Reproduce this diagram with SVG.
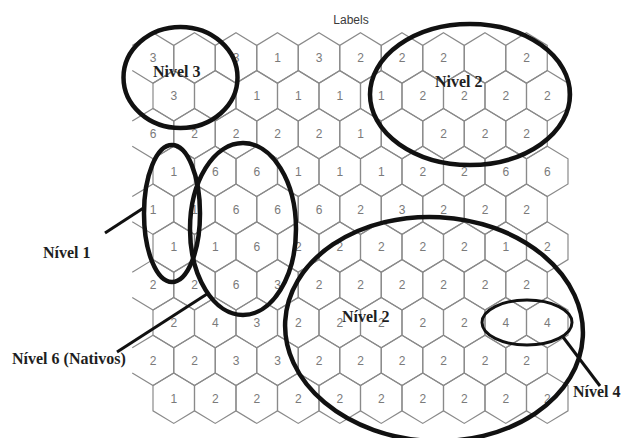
<svg xmlns="http://www.w3.org/2000/svg" xmlns:xlink="http://www.w3.org/1999/xlink" width="623" height="438" viewBox="0 0 623 438">
<style>
.hx{fill:none;stroke:#8a8a8a;stroke-width:1.2}
.lb{font-family:"Liberation Sans",Arial,sans-serif;font-size:12px;fill:#7a7a7a;text-anchor:middle}
.ttl{font-family:"Liberation Sans",Arial,sans-serif;font-size:12px;fill:#3a3a3a;text-anchor:middle}
.ann{font-family:"Liberation Serif","Times New Roman",serif;font-size:16px;font-weight:bold;fill:#1e1e1e}
.ring{fill:none;stroke:#111;stroke-width:4.5}
.ring4{fill:none;stroke:#111;stroke-width:3}
.ptr{stroke:#111;stroke-width:3;fill:none}
</style>
<defs>
<path id="hex" class="hx" d="M0,-25.2 L20.75,-12.6 L20.75,12.6 L0,25.2 L-20.75,12.6 L-20.75,-12.6 Z"/>
<path id="hexL" class="hx" d="M-20.75,-12.6 L0,-25.2 L20.75,-12.6 L20.75,12.6 L0,25.2 L-20.75,12.6"/>
</defs>
<rect width="623" height="438" fill="#fff"/>
<text class="ttl" x="351" y="24">Labels</text>
<g id="grid">
<g id="row0" transform="translate(0,58)">
<g id="c0-0"><use href="#hexL" x="153" y="0"/><text class="lb" x="153" y="4.3">3</text></g>
<g id="c0-1"><use href="#hex" x="194.5" y="0"/></g>
<g id="c0-2"><use href="#hex" x="236" y="0"/><text class="lb" x="236" y="4.3">3</text></g>
<g id="c0-3"><use href="#hex" x="277.5" y="0"/><text class="lb" x="277.5" y="4.3">1</text></g>
<g id="c0-4"><use href="#hex" x="319" y="0"/><text class="lb" x="319" y="4.3">3</text></g>
<g id="c0-5"><use href="#hex" x="360.5" y="0"/><text class="lb" x="360.5" y="4.3">2</text></g>
<g id="c0-6"><use href="#hex" x="402" y="0"/><text class="lb" x="402" y="4.3">2</text></g>
<g id="c0-7"><use href="#hex" x="443.5" y="0"/><text class="lb" x="443.5" y="4.3">2</text></g>
<g id="c0-8"><use href="#hex" x="485" y="0"/></g>
<g id="c0-9"><use href="#hex" x="526.5" y="0"/><text class="lb" x="526.5" y="4.3">2</text></g>
</g>
<g id="row1" transform="translate(0,95.8)">
<g id="c1-0"><use href="#hex" x="173.75" y="0"/><text class="lb" x="173.75" y="4.3">3</text></g>
<g id="c1-1"><use href="#hex" x="215.25" y="0"/></g>
<g id="c1-2"><use href="#hex" x="256.75" y="0"/><text class="lb" x="256.75" y="4.3">1</text></g>
<g id="c1-3"><use href="#hex" x="298.25" y="0"/><text class="lb" x="298.25" y="4.3">1</text></g>
<g id="c1-4"><use href="#hex" x="339.75" y="0"/><text class="lb" x="339.75" y="4.3">1</text></g>
<g id="c1-5"><use href="#hex" x="381.25" y="0"/><text class="lb" x="381.25" y="4.3">1</text></g>
<g id="c1-6"><use href="#hex" x="422.75" y="0"/><text class="lb" x="422.75" y="4.3">2</text></g>
<g id="c1-7"><use href="#hex" x="464.25" y="0"/><text class="lb" x="464.25" y="4.3">2</text></g>
<g id="c1-8"><use href="#hex" x="505.75" y="0"/><text class="lb" x="505.75" y="4.3">2</text></g>
<g id="c1-9"><use href="#hex" x="547.25" y="0"/><text class="lb" x="547.25" y="4.3">2</text></g>
</g>
<g id="row2" transform="translate(0,133.6)">
<g id="c2-0"><use href="#hexL" x="153" y="0"/><text class="lb" x="153" y="4.3">6</text></g>
<g id="c2-1"><use href="#hex" x="194.5" y="0"/><text class="lb" x="194.5" y="4.3">2</text></g>
<g id="c2-2"><use href="#hex" x="236" y="0"/><text class="lb" x="236" y="4.3">2</text></g>
<g id="c2-3"><use href="#hex" x="277.5" y="0"/><text class="lb" x="277.5" y="4.3">2</text></g>
<g id="c2-4"><use href="#hex" x="319" y="0"/><text class="lb" x="319" y="4.3">2</text></g>
<g id="c2-5"><use href="#hex" x="360.5" y="0"/><text class="lb" x="360.5" y="4.3">1</text></g>
<g id="c2-6"><use href="#hex" x="402" y="0"/></g>
<g id="c2-7"><use href="#hex" x="443.5" y="0"/><text class="lb" x="443.5" y="4.3">2</text></g>
<g id="c2-8"><use href="#hex" x="485" y="0"/><text class="lb" x="485" y="4.3">2</text></g>
<g id="c2-9"><use href="#hex" x="526.5" y="0"/><text class="lb" x="526.5" y="4.3">2</text></g>
</g>
<g id="row3" transform="translate(0,171.4)">
<g id="c3-0"><use href="#hex" x="173.75" y="0"/><text class="lb" x="173.75" y="4.3">1</text></g>
<g id="c3-1"><use href="#hex" x="215.25" y="0"/><text class="lb" x="215.25" y="4.3">6</text></g>
<g id="c3-2"><use href="#hex" x="256.75" y="0"/><text class="lb" x="256.75" y="4.3">6</text></g>
<g id="c3-3"><use href="#hex" x="298.25" y="0"/><text class="lb" x="298.25" y="4.3">1</text></g>
<g id="c3-4"><use href="#hex" x="339.75" y="0"/><text class="lb" x="339.75" y="4.3">1</text></g>
<g id="c3-5"><use href="#hex" x="381.25" y="0"/><text class="lb" x="381.25" y="4.3">1</text></g>
<g id="c3-6"><use href="#hex" x="422.75" y="0"/><text class="lb" x="422.75" y="4.3">2</text></g>
<g id="c3-7"><use href="#hex" x="464.25" y="0"/><text class="lb" x="464.25" y="4.3">2</text></g>
<g id="c3-8"><use href="#hex" x="505.75" y="0"/><text class="lb" x="505.75" y="4.3">6</text></g>
<g id="c3-9"><use href="#hex" x="547.25" y="0"/><text class="lb" x="547.25" y="4.3">6</text></g>
</g>
<g id="row4" transform="translate(0,209.2)">
<g id="c4-0"><use href="#hexL" x="153" y="0"/><text class="lb" x="153" y="4.3">1</text></g>
<g id="c4-1"><use href="#hex" x="194.5" y="0"/><text class="lb" x="194.5" y="4.3">1</text></g>
<g id="c4-2"><use href="#hex" x="236" y="0"/><text class="lb" x="236" y="4.3">6</text></g>
<g id="c4-3"><use href="#hex" x="277.5" y="0"/><text class="lb" x="277.5" y="4.3">6</text></g>
<g id="c4-4"><use href="#hex" x="319" y="0"/><text class="lb" x="319" y="4.3">6</text></g>
<g id="c4-5"><use href="#hex" x="360.5" y="0"/><text class="lb" x="360.5" y="4.3">2</text></g>
<g id="c4-6"><use href="#hex" x="402" y="0"/><text class="lb" x="402" y="4.3">3</text></g>
<g id="c4-7"><use href="#hex" x="443.5" y="0"/><text class="lb" x="443.5" y="4.3">2</text></g>
<g id="c4-8"><use href="#hex" x="485" y="0"/><text class="lb" x="485" y="4.3">2</text></g>
<g id="c4-9"><use href="#hex" x="526.5" y="0"/><text class="lb" x="526.5" y="4.3">2</text></g>
</g>
<g id="row5" transform="translate(0,247)">
<g id="c5-0"><use href="#hex" x="173.75" y="0"/><text class="lb" x="173.75" y="4.3">1</text></g>
<g id="c5-1"><use href="#hex" x="215.25" y="0"/><text class="lb" x="215.25" y="4.3">1</text></g>
<g id="c5-2"><use href="#hex" x="256.75" y="0"/><text class="lb" x="256.75" y="4.3">6</text></g>
<g id="c5-3"><use href="#hex" x="298.25" y="0"/><text class="lb" x="298.25" y="4.3">2</text></g>
<g id="c5-4"><use href="#hex" x="339.75" y="0"/><text class="lb" x="339.75" y="4.3">2</text></g>
<g id="c5-5"><use href="#hex" x="381.25" y="0"/><text class="lb" x="381.25" y="4.3">2</text></g>
<g id="c5-6"><use href="#hex" x="422.75" y="0"/><text class="lb" x="422.75" y="4.3">2</text></g>
<g id="c5-7"><use href="#hex" x="464.25" y="0"/><text class="lb" x="464.25" y="4.3">2</text></g>
<g id="c5-8"><use href="#hex" x="505.75" y="0"/><text class="lb" x="505.75" y="4.3">1</text></g>
<g id="c5-9"><use href="#hex" x="547.25" y="0"/><text class="lb" x="547.25" y="4.3">2</text></g>
</g>
<g id="row6" transform="translate(0,284.8)">
<g id="c6-0"><use href="#hexL" x="153" y="0"/><text class="lb" x="153" y="4.3">2</text></g>
<g id="c6-1"><use href="#hex" x="194.5" y="0"/><text class="lb" x="194.5" y="4.3">2</text></g>
<g id="c6-2"><use href="#hex" x="236" y="0"/><text class="lb" x="236" y="4.3">6</text></g>
<g id="c6-3"><use href="#hex" x="277.5" y="0"/><text class="lb" x="277.5" y="4.3">3</text></g>
<g id="c6-4"><use href="#hex" x="319" y="0"/><text class="lb" x="319" y="4.3">2</text></g>
<g id="c6-5"><use href="#hex" x="360.5" y="0"/><text class="lb" x="360.5" y="4.3">2</text></g>
<g id="c6-6"><use href="#hex" x="402" y="0"/><text class="lb" x="402" y="4.3">2</text></g>
<g id="c6-7"><use href="#hex" x="443.5" y="0"/><text class="lb" x="443.5" y="4.3">2</text></g>
<g id="c6-8"><use href="#hex" x="485" y="0"/><text class="lb" x="485" y="4.3">2</text></g>
<g id="c6-9"><use href="#hex" x="526.5" y="0"/><text class="lb" x="526.5" y="4.3">2</text></g>
</g>
<g id="row7" transform="translate(0,322.6)">
<g id="c7-0"><use href="#hex" x="173.75" y="0"/><text class="lb" x="173.75" y="4.3">2</text></g>
<g id="c7-1"><use href="#hex" x="215.25" y="0"/><text class="lb" x="215.25" y="4.3">4</text></g>
<g id="c7-2"><use href="#hex" x="256.75" y="0"/><text class="lb" x="256.75" y="4.3">3</text></g>
<g id="c7-3"><use href="#hex" x="298.25" y="0"/><text class="lb" x="298.25" y="4.3">2</text></g>
<g id="c7-4"><use href="#hex" x="339.75" y="0"/><text class="lb" x="339.75" y="4.3">2</text></g>
<g id="c7-5"><use href="#hex" x="381.25" y="0"/><text class="lb" x="381.25" y="4.3">2</text></g>
<g id="c7-6"><use href="#hex" x="422.75" y="0"/><text class="lb" x="422.75" y="4.3">2</text></g>
<g id="c7-7"><use href="#hex" x="464.25" y="0"/><text class="lb" x="464.25" y="4.3">2</text></g>
<g id="c7-8"><use href="#hex" x="505.75" y="0"/><text class="lb" x="505.75" y="4.3">4</text></g>
<g id="c7-9"><use href="#hex" x="547.25" y="0"/><text class="lb" x="547.25" y="4.3">4</text></g>
</g>
<g id="row8" transform="translate(0,360.4)">
<g id="c8-0"><use href="#hexL" x="153" y="0"/><text class="lb" x="153" y="4.3">2</text></g>
<g id="c8-1"><use href="#hex" x="194.5" y="0"/><text class="lb" x="194.5" y="4.3">2</text></g>
<g id="c8-2"><use href="#hex" x="236" y="0"/><text class="lb" x="236" y="4.3">3</text></g>
<g id="c8-3"><use href="#hex" x="277.5" y="0"/><text class="lb" x="277.5" y="4.3">3</text></g>
<g id="c8-4"><use href="#hex" x="319" y="0"/><text class="lb" x="319" y="4.3">2</text></g>
<g id="c8-5"><use href="#hex" x="360.5" y="0"/><text class="lb" x="360.5" y="4.3">2</text></g>
<g id="c8-6"><use href="#hex" x="402" y="0"/><text class="lb" x="402" y="4.3">2</text></g>
<g id="c8-7"><use href="#hex" x="443.5" y="0"/><text class="lb" x="443.5" y="4.3">2</text></g>
<g id="c8-8"><use href="#hex" x="485" y="0"/><text class="lb" x="485" y="4.3">2</text></g>
<g id="c8-9"><use href="#hex" x="526.5" y="0"/><text class="lb" x="526.5" y="4.3">2</text></g>
</g>
<g id="row9" transform="translate(0,398.2)">
<g id="c9-0"><use href="#hex" x="173.75" y="0"/><text class="lb" x="173.75" y="4.3">1</text></g>
<g id="c9-1"><use href="#hex" x="215.25" y="0"/><text class="lb" x="215.25" y="4.3">2</text></g>
<g id="c9-2"><use href="#hex" x="256.75" y="0"/><text class="lb" x="256.75" y="4.3">2</text></g>
<g id="c9-3"><use href="#hex" x="298.25" y="0"/><text class="lb" x="298.25" y="4.3">2</text></g>
<g id="c9-4"><use href="#hex" x="339.75" y="0"/><text class="lb" x="339.75" y="4.3">2</text></g>
<g id="c9-5"><use href="#hex" x="381.25" y="0"/><text class="lb" x="381.25" y="4.3">2</text></g>
<g id="c9-6"><use href="#hex" x="422.75" y="0"/><text class="lb" x="422.75" y="4.3">2</text></g>
<g id="c9-7"><use href="#hex" x="464.25" y="0"/><text class="lb" x="464.25" y="4.3">2</text></g>
<g id="c9-8"><use href="#hex" x="505.75" y="0"/><text class="lb" x="505.75" y="4.3">2</text></g>
<g id="c9-9"><use href="#hex" x="547.25" y="0"/><text class="lb" x="547.25" y="4.3">2</text></g>
</g>
</g>
<g id="connectors">
<line class="ptr" x1="105" y1="233" x2="145" y2="207"/>
<line class="ptr" x1="117" y1="352" x2="207" y2="294"/>
<line class="ptr" x1="563" y1="337" x2="600" y2="386"/>
</g>
<g id="nivel3"><ellipse class="ring" cx="180.5" cy="77.5" rx="57" ry="50.5"/><text class="ann" x="153" y="77">Nivel 3</text></g>
<g id="nivel2-top"><ellipse class="ring" cx="470" cy="94.5" rx="100" ry="70.5"/><text class="ann" x="435" y="87">Nivel 2</text></g>
<g id="nivel1"><ellipse class="ring" cx="172" cy="213.5" rx="28" ry="68.5"/><text class="ann" x="43" y="258">Nível 1</text></g>
<g id="nivel6"><ellipse class="ring" cx="243" cy="229" rx="53" ry="86"/><text class="ann" x="12" y="364">Nível 6 (Nativos)</text></g>
<g id="nivel2-bottom"><ellipse class="ring" cx="434" cy="329" rx="149" ry="112" transform="rotate(3 434 329)"/><text class="ann" x="342" y="322">Nível 2</text></g>
<g id="nivel4"><ellipse class="ring4" cx="527" cy="322.5" rx="45" ry="22.5"/><text class="ann" x="573" y="397">Nível 4</text></g>
</svg>
